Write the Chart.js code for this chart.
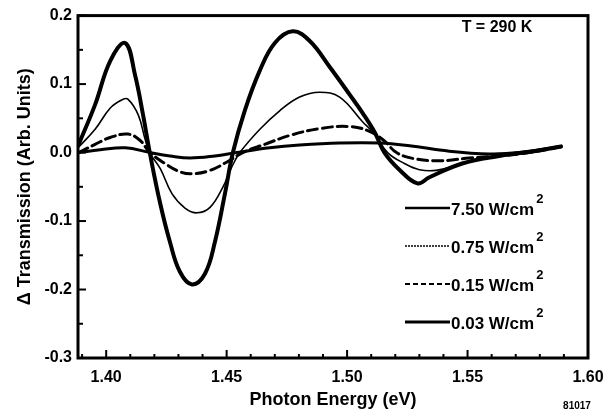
<!DOCTYPE html>
<html>
<head>
<meta charset="utf-8">
<script src="https://cdn.jsdelivr.net/npm/chart.js@4/dist/chart.umd.min.js"></script>
<style>
html,body{margin:0;padding:0;background:#fff;}
#wrap{width:616px;height:418px;position:relative;}
</style>
</head>
<body>
<div id="wrap"><canvas id="c" width="616" height="418"></canvas></div>
<script>
// ---- data ----
const seriesLabels = ['7.50 W/cm', '0.75 W/cm', '0.15 W/cm', '0.03 W/cm'];

const energy750 = [1.3886, 1.3954, 1.4017, 1.4079, 1.4120, 1.4153, 1.4182, 1.4224, 1.4265, 1.4306, 1.4356, 1.4410, 1.4451, 1.4493, 1.4526, 1.4576, 1.4638, 1.4700, 1.4774, 1.4845, 1.4928, 1.5010, 1.5064, 1.5114, 1.5155, 1.5217, 1.5292, 1.5342, 1.5478, 1.5631, 1.5776, 1.5888];
const trans750  = [0.012, 0.070, 0.134, 0.160, 0.113, 0.055, -0.002, -0.074, -0.131, -0.174, -0.1925, -0.177, -0.131, -0.060, 0.000, 0.062, 0.120, 0.160, 0.177, 0.163, 0.125, 0.085, 0.058, 0.030, 0.000, -0.025, -0.045, -0.036, -0.016, -0.005, 0.002, 0.009];

const energy075 = [1.3886, 1.3954, 1.4017, 1.4066, 1.4090, 1.4133, 1.4161, 1.4180, 1.4224, 1.4273, 1.4327, 1.4377, 1.4431, 1.4485, 1.4520, 1.4555, 1.4638, 1.4720, 1.4803, 1.4886, 1.4969, 1.5064, 1.5114, 1.5168, 1.5238, 1.5300, 1.5370, 1.5478, 1.5631, 1.5888];
const trans075  = [0.008, 0.034, 0.065, 0.077, 0.078, 0.055, 0.020, 0.000, -0.023, -0.060, -0.081, -0.088, -0.080, -0.050, -0.022, 0.000, 0.034, 0.061, 0.081, 0.088, 0.081, 0.045, 0.027, 0.000, -0.016, -0.025, -0.026, -0.016, -0.005, 0.009];

const energy015 = [1.3886, 1.3954, 1.4017, 1.4090, 1.4140, 1.4182, 1.4244, 1.4306, 1.4356, 1.4431, 1.4505, 1.4567, 1.4658, 1.4762, 1.4886, 1.5010, 1.5093, 1.5155, 1.5205, 1.5280, 1.5383, 1.5507, 1.5714, 1.5888];
const trans015  = [0.000, 0.012, 0.022, 0.027, 0.018, 0.000, -0.016, -0.028, -0.031, -0.026, -0.013, 0.000, 0.012, 0.025, 0.035, 0.038, 0.031, 0.017, 0.000, -0.009, -0.012, -0.008, -0.002, 0.008];

const energy003 = [1.3886, 1.3975, 1.4079, 1.4182, 1.4265, 1.4348, 1.4451, 1.4542, 1.4679, 1.4803, 1.4969, 1.5135, 1.5259, 1.5424, 1.5590, 1.5714, 1.5888];
const trans003  = [0.000, 0.004, 0.007, 0.000, -0.005, -0.008, -0.005, 0.000, 0.007, 0.011, 0.014, 0.014, 0.010, 0.002, -0.002, 0.000, 0.009];

const xTickValues = [1.40, 1.45, 1.50, 1.55, 1.60];
const yTickValues = [-0.3, -0.2, -0.1, 0.0, 0.1, 0.2];
const xAxisTitle = 'Photon Energy (eV)';
const yAxisTitle = '\u0394 Transmission (Arb. Units)';
const tempLabel = 'T = 290 K';
const figureId = '81017';

// ---- styles ----
const FONT = '"Liberation Sans", Arial, sans-serif';
const seriesStyles = [
  {width: 4,   dash: []},
  {width: 1.6, dash: []},
  {width: 3,   dash: [10, 5]},
  {width: 3,   dash: []}
];
const legendStyles = [
  {width: 2.5, dash: []},
  {width: 1.3, dash: [2, 1]},
  {width: 2,   dash: [5, 3]},
  {width: 3,   dash: []}
];

function pts(xs, ys) { return xs.map((e, i) => ({x: e, y: ys[i]})); }
const seriesData = [pts(energy750, trans750), pts(energy075, trans075), pts(energy015, trans015), pts(energy003, trans003)];

const decor = {
  id: 'decor',
  afterDatasetsDraw(chart) {
    const {ctx, chartArea: a, scales: {x, y}} = chart;
    ctx.save();
    ctx.strokeStyle = '#000';
    ctx.lineCap = 'butt';
    // inward tick marks
    ctx.lineWidth = 2;
    for (let k = -6; k <= 4; k++) {
      const v = k * 0.05;
      const py = y.getPixelForValue(v);
      const len = (k % 2 === 0) ? 8 : 5;
      ctx.beginPath(); ctx.moveTo(a.left, py); ctx.lineTo(a.left + len, py); ctx.stroke();
    }
    for (let k = 139; k <= 160; k++) {
      const v = k / 100;
      const px = x.getPixelForValue(v);
      if (px < a.left + 1 || px > a.right - 1) continue;
      const len = (k % 5 === 0) ? 8 : 4;
      ctx.beginPath(); ctx.moveTo(px, a.bottom); ctx.lineTo(px, a.bottom - len); ctx.stroke();
    }
    // frame
    ctx.lineWidth = 3;
    ctx.strokeRect(a.left, a.top, a.right - a.left, a.bottom - a.top);

    // temperature label
    ctx.fillStyle = '#000';
    ctx.font = 'bold 16px ' + FONT;
    ctx.textAlign = 'center';
    ctx.textBaseline = 'middle';
    ctx.fillText(tempLabel, 497, 28);

    // legend
    const rowY = [208, 246, 284, 322];
    seriesLabels.forEach((lab, i) => {
      const st = legendStyles[i];
      ctx.lineWidth = st.width;
      ctx.setLineDash(st.dash);
      ctx.beginPath(); ctx.moveTo(405, rowY[i]); ctx.lineTo(450, rowY[i]); ctx.stroke();
      ctx.setLineDash([]);
      ctx.font = 'bold 17px ' + FONT;
      ctx.textAlign = 'left';
      ctx.textBaseline = 'middle';
      ctx.fillText(lab, 451, rowY[i] + 2);
      const w = ctx.measureText(lab).width;
      ctx.font = 'bold 13px ' + FONT;
      ctx.fillText('2', 451 + w + 2, rowY[i] - 9);
    });

    // figure id
    ctx.font = 'bold 10px ' + FONT;
    ctx.textAlign = 'center';
    ctx.fillText(figureId, 577, 406);
    ctx.restore();
  }
};

new Chart(document.getElementById('c'), {
  type: 'line',
  data: {
    datasets: seriesData.map((d, i) => ({
      label: seriesLabels[i] + '\u00b2',
      data: d,
      borderColor: '#000',
      borderWidth: seriesStyles[i].width,
      borderDash: seriesStyles[i].dash,
      pointRadius: 0,
      fill: false,
      tension: 0.4,
      borderJoinStyle: 'round',
      borderCapStyle: 'round'
    }))
  },
  options: {
    responsive: false,
    animation: false,
    devicePixelRatio: 1,
    layout: {padding: {top: 8, right: 28, left: 0, bottom: 0}},
    plugins: {legend: {display: false}, tooltip: {enabled: false}},
    scales: {
      x: {
        type: 'linear',
        min: 1.3883,
        max: 1.60,
        afterBuildTicks: s => { s.ticks = xTickValues.map(v => ({value: v})); },
        afterFit: s => { s.height = 60; },
        grid: {display: false, drawTicks: false},
        border: {display: false},
        ticks: {
          color: '#000',
          font: {family: FONT, size: 16, weight: 'bold'},
          padding: 10,
          maxRotation: 0,
          callback: v => Number(v).toFixed(2)
        },
        title: {
          display: true,
          text: xAxisTitle,
          color: '#000',
          font: {family: FONT, size: 18, weight: 'bold'},
          padding: {top: 0, bottom: 7}
        }
      },
      y: {
        type: 'linear',
        min: -0.3,
        max: 0.2,
        afterBuildTicks: s => { s.ticks = yTickValues.map(v => ({value: v})); },
        afterFit: s => { s.width = 78; },
        grid: {display: false, drawTicks: false},
        border: {display: false},
        ticks: {
          color: '#000',
          font: {family: FONT, size: 16, weight: 'bold'},
          padding: 6,
          callback: v => Number(v).toFixed(1)
        },
        title: {
          display: true,
          text: yAxisTitle,
          color: '#000',
          font: {family: FONT, size: 18, weight: 'bold'},
          padding: {top: 14, bottom: 0}
        }
      }
    }
  },
  plugins: [decor]
});
</script>
</body>
</html>
